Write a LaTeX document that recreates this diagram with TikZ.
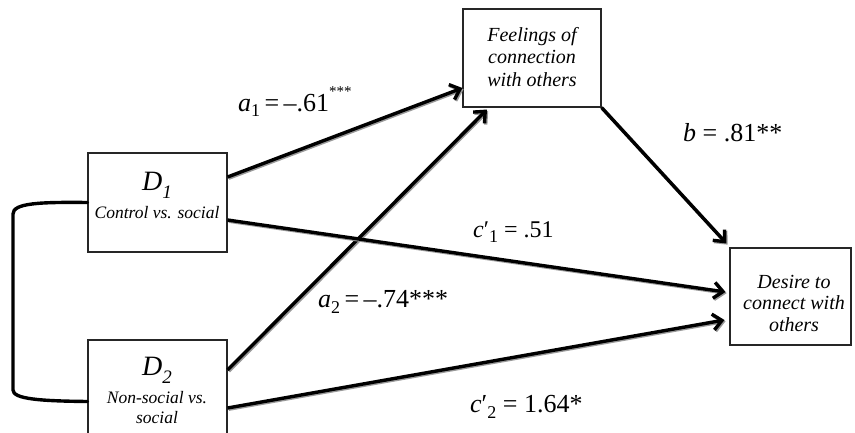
\documentclass[tikz,border=0pt]{standalone}
\usepackage{fontspec}
\setmainfont{Liberation Serif}
\usetikzlibrary{arrows.meta,calc}
\tikzset{
  box/.style={draw=black!85, line width=1.1pt, inner sep=0pt},
  txt/.style={inner sep=0pt, align=center, font=\itshape\fontsize{20}{22.5}\selectfont},
  sub/.style={inner sep=0pt, font=\itshape\fontsize{17.5}{20}\selectfont},
  big/.style={inner sep=0pt, font=\itshape\fontsize{28}{30}\selectfont},
  lab/.style={inner sep=0pt, anchor=west, font=\fontsize{26}{28}\selectfont},
  path arrow/.style={line width=3.4pt, -{Straight Barb[length=9pt,width=16pt,line width=3.4pt]},
    preaction={draw=black!40, line width=3.4pt, transform canvas={shift={(1.2pt,-1.2pt)}}}},
  bracket/.style={line width=3.4pt, line cap=round}
}
\newcommand{\lsub}[1]{\raisebox{-0.22em}{\fontsize{18}{20}\selectfont #1}}
\begin{document}
\begin{tikzpicture}[x=1pt,y=-1pt]
\useasboundingbox (0,0) rectangle (855,433);
% boxes
\node[box, minimum width=139pt, minimum height=99pt] (D1) at (157.5,202.5) {};
\node[box, minimum width=139pt, minimum height=99pt] (D2) at (157.5,389.5) {};
\node[box, minimum width=138pt, minimum height=98pt] (F) at (532,58) {};
\node[box, minimum width=121pt, minimum height=97pt] (Y) at (790.5,296.5) {};
% texts
\node[big] (D1t) at (157,185) {D\raisebox{-0.28em}{\fontsize{19}{20}\selectfont 1}};
\node[sub] (D1s) at (157,213) {Control vs. social};
\node[big] (D2t) at (157,370) {D\raisebox{-0.28em}{\fontsize{19}{20}\selectfont 2}};
\node[sub, align=center, font=\itshape\fontsize{17.5}{20}\selectfont] (D2s) at (157,408) {Non-social vs.\\social};
\node[txt] (Ft) at (532,57) {Feelings of\\connection\\with others};
\node[txt, font=\itshape\fontsize{20}{21.5}\selectfont] (Yt) at (794,303) {Desire to\\connect with\\others};
% arrows
\draw[path arrow] ([yshift=25.5pt]D1.east) -- ([yshift=-30pt]F.west);
\draw[path arrow] ([yshift=19.5pt]D2.east) -- ([xshift=-45pt,yshift=-2pt]F.south);
\draw[path arrow] ([yshift=-17.5pt]D1.east) -- ([xshift=-4pt,yshift=4.5pt]Y.west);
\draw[path arrow] ([yshift=-18.5pt]D2.east) -- ([xshift=-5pt,yshift=-23.5pt]Y.west);
\draw[path arrow] (F.south east) -- ([xshift=-3pt,yshift=4pt]Y.north west);
% bracket
\coordinate (bt) at (13,206);
\coordinate (bb) at (13,398);
\draw[bracket] (D1.west) .. controls (40,202) and (13,203) .. ([yshift=-8pt]bt) -- ([yshift=8pt]bb) .. controls (13,399) and (40,401) .. ([yshift=-12pt]D2.west);
% labels
\node[lab] (la1) at (238,102) {\textit{a}\lsub{1}\,=\,–.61\raisebox{0.55em}{\fontsize{15}{16}\selectfont ***}};
\node[lab] (lb) at (683,133) {\textit{b} = .81**};
\node[lab, font=\fontsize{24}{26}\selectfont] (lc1) at (473,232) {\textit{c}′\lsub{1} = .51};
\node[lab] (la2) at (318,302) {\textit{a}\lsub{2}\,=\,–.74***};
\node[lab] (lc2) at (470,407) {\textit{c}′\lsub{2} = 1.64*};
\end{tikzpicture}
\end{document}
